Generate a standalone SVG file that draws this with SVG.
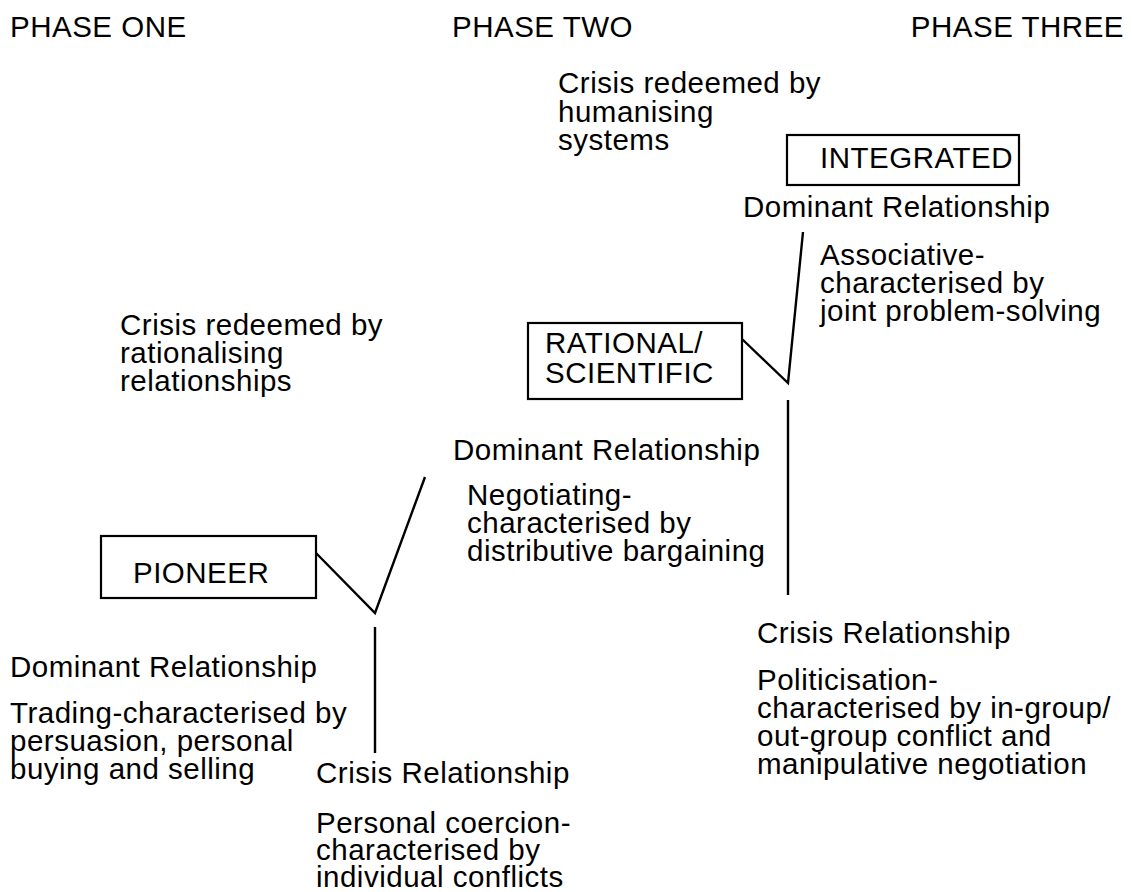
<svg xmlns="http://www.w3.org/2000/svg" width="1134" height="892" viewBox="0 0 1134 892">
  <style>
    text { font-family: "Liberation Sans", Arial, sans-serif; font-size: 29.5px; letter-spacing: 0.5px; fill: #000; }
    .box { fill: #fff; stroke: #000; stroke-width: 2.2; }
    .conn { fill: none; stroke: #000; stroke-width: 2.4; stroke-linejoin: miter; }
  </style>
  <rect width="1134" height="892" fill="#fff"/>

  <!-- phase headings -->
  <g id="headings">
    <text x="10" y="37">PHASE ONE</text>
    <text x="452" y="37">PHASE TWO</text>
    <text x="1124" y="37" text-anchor="end">PHASE THREE</text>
  </g>

  <!-- connectors -->
  <g id="connectors">
    <polyline class="conn" points="316,553 375,613 425,477"/>
    <line class="conn" x1="375" y1="627" x2="375" y2="753"/>
    <polyline class="conn" points="742,339 788,383 803,232"/>
    <line class="conn" x1="788" y1="400" x2="788" y2="595"/>
  </g>

  <!-- stage boxes -->
  <g id="pioneer">
    <rect class="box" x="101" y="536" width="215" height="62"/>
    <text x="133" y="583">PIONEER</text>
  </g>
  <g id="rational">
    <rect class="box" x="528" y="323" width="214" height="76"/>
    <text x="545" y="353">RATIONAL/</text>
    <text x="545" y="383">SCIENTIFIC</text>
  </g>
  <g id="integrated">
    <rect class="box" x="787" y="135" width="232" height="50"/>
    <text x="820" y="168">INTEGRATED</text>
  </g>

  <!-- phase one labels -->
  <g id="p1-dominant">
    <text x="10" y="677">Dominant Relationship</text>
    <text x="10" y="723">Trading-characterised by</text>
    <text x="10" y="751">persuasion, personal</text>
    <text x="10" y="779">buying and selling</text>
  </g>
  <g id="p1-crisis">
    <text x="316" y="783">Crisis Relationship</text>
    <text x="316" y="833">Personal coercion-</text>
    <text x="316" y="860">characterised by</text>
    <text x="316" y="887">individual conflicts</text>
  </g>
  <g id="p1-redeemed">
    <text x="120" y="335">Crisis redeemed by</text>
    <text x="120" y="363">rationalising</text>
    <text x="120" y="391">relationships</text>
  </g>

  <!-- phase two labels -->
  <g id="p2-dominant">
    <text x="453" y="460">Dominant Relationship</text>
    <text x="467" y="505">Negotiating-</text>
    <text x="467" y="533">characterised by</text>
    <text x="467" y="561">distributive bargaining</text>
  </g>
  <g id="p2-crisis">
    <text x="757" y="643">Crisis Relationship</text>
    <text x="757" y="690">Politicisation-</text>
    <text x="757" y="718">characterised by in-group/</text>
    <text x="757" y="746">out-group conflict and</text>
    <text x="757" y="774">manipulative negotiation</text>
  </g>
  <g id="p2-redeemed">
    <text x="558" y="93">Crisis redeemed by</text>
    <text x="558" y="122">humanising</text>
    <text x="558" y="150">systems</text>
  </g>

  <!-- phase three labels -->
  <g id="p3-dominant">
    <text x="743" y="217">Dominant Relationship</text>
    <text x="820" y="265">Associative-</text>
    <text x="820" y="293">characterised by</text>
    <text x="820" y="321">joint problem-solving</text>
  </g>
</svg>
